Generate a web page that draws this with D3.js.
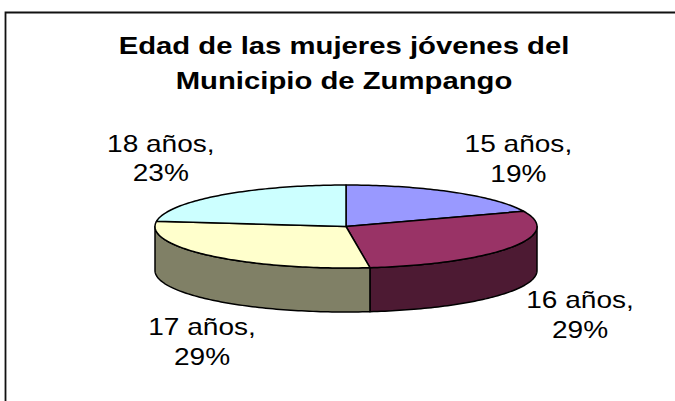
<!DOCTYPE html>
<html>
<head>
<meta charset="utf-8">
<script src="https://cdn.jsdelivr.net/npm/d3@7"></script>
<style>
  body { margin: 0; background: #fff; }
  text { font-family: "Liberation Sans", Arial, sans-serif; fill: #000; }
</style>
</head>
<body>
<script>
var width = 675,
    height = 401;

// Chart data
var categories = ['15 años', '16 años', '17 años', '18 años'];
var values = [19, 29, 29, 23];
var topColors = ['#9999ff', '#993366', '#ffffcc', '#ccffff'];
var sideColors = ['#4d4d80', '#4d1a33', '#808066', '#668080'];
var titleLines = ['Edad de las mujeres jóvenes del', 'Municipio de Zumpango'];

// Pie geometry
var cx = 346, cy = 226.5, rx = 191, ry = 41.5, depth = 44;
var stretch = 1.22; // text is drawn wide, like the source picture

var svg = d3.select('body').append('svg')
    .attr('width', width)
    .attr('height', height);

// Chart area border (left and top edges are visible)
svg.append('path')
    .attr('d', 'M5.5,' + height + 'V12.5H' + width)
    .attr('fill', 'none')
    .attr('stroke', '#111')
    .attr('stroke-width', 1.8);

// Title
svg.append('g').selectAll('text')
    .data(titleLines)
    .enter().append('text')
    .attr('transform', function(d, i) {
      return 'translate(344,' + (54 + i * 35) + ') scale(' + stretch + ',1)';
    })
    .attr('text-anchor', 'middle')
    .style('font-size', '24px')
    .style('font-weight', 'bold')
    .text(function(d) { return d; });

var pie = d3.pie().sort(null).startAngle(0).endAngle(2 * Math.PI);
var arcs = pie(values);

function pt(a, dy) {
  return [cx + rx * Math.sin(a), cy - ry * Math.cos(a) + (dy || 0)];
}

function rim(a0, a1, dy) {
  var n = Math.max(2, Math.ceil(Math.abs(a1 - a0) / 0.02)),
      pts = [];
  for (var i = 0; i <= n; i++) pts.push(pt(a0 + (a1 - a0) * i / n, dy));
  return pts;
}

var line = d3.line();

// Side walls of the front half
var sides = svg.append('g').attr('class', 'sides');
arcs.forEach(function(d, i) {
  var a0 = Math.max(d.startAngle, Math.PI / 2),
      a1 = Math.min(d.endAngle, 3 * Math.PI / 2);
  if (a1 <= a0) return;
  var pts = rim(a0, a1, 0).concat(rim(a1, a0, depth));
  sides.append('path')
      .attr('d', line(pts) + 'Z')
      .attr('fill', sideColors[i])
      .attr('stroke', '#000')
      .attr('stroke-width', 1.5)
      .attr('stroke-linejoin', 'round');
});

// Top faces
svg.append('g').attr('class', 'tops')
  .selectAll('path')
    .data(arcs)
    .enter().append('path')
    .attr('d', function(d) {
      return line([[cx, cy]].concat(rim(d.startAngle, d.endAngle, 0))) + 'Z';
    })
    .attr('fill', function(d, i) { return topColors[i]; })
    .attr('stroke', '#000')
    .attr('stroke-width', 1.5)
    .attr('stroke-linejoin', 'round');

// Data labels, placed outside the pie at each slice's middle angle
var labelRx = 280, labelRy = 88;
var nudge = [[15, 5], [-7, 0], [54, 9], [0, -2]];
var labels = svg.append('g').attr('class', 'labels')
  .selectAll('g')
    .data(arcs)
    .enter().append('g')
    .attr('transform', function(d, i) {
      var a = (d.startAngle + d.endAngle) / 2,
          x = cx + labelRx * Math.sin(a) + nudge[i][0],
          y = cy - labelRy * Math.cos(a) + (Math.cos(a) < 0 ? depth : 0) + nudge[i][1];
      return 'translate(' + x + ',' + y + ') scale(' + stretch + ',1)';
    });

labels.append('text')
    .attr('text-anchor', 'middle')
    .attr('y', -7)
    .style('font-size', '23px')
    .text(function(d, i) { return categories[i] + ','; });

labels.append('text')
    .attr('text-anchor', 'middle')
    .attr('y', 23)
    .style('font-size', '23px')
    .text(function(d) { return d.value + '%'; });
</script>
</body>
</html>
